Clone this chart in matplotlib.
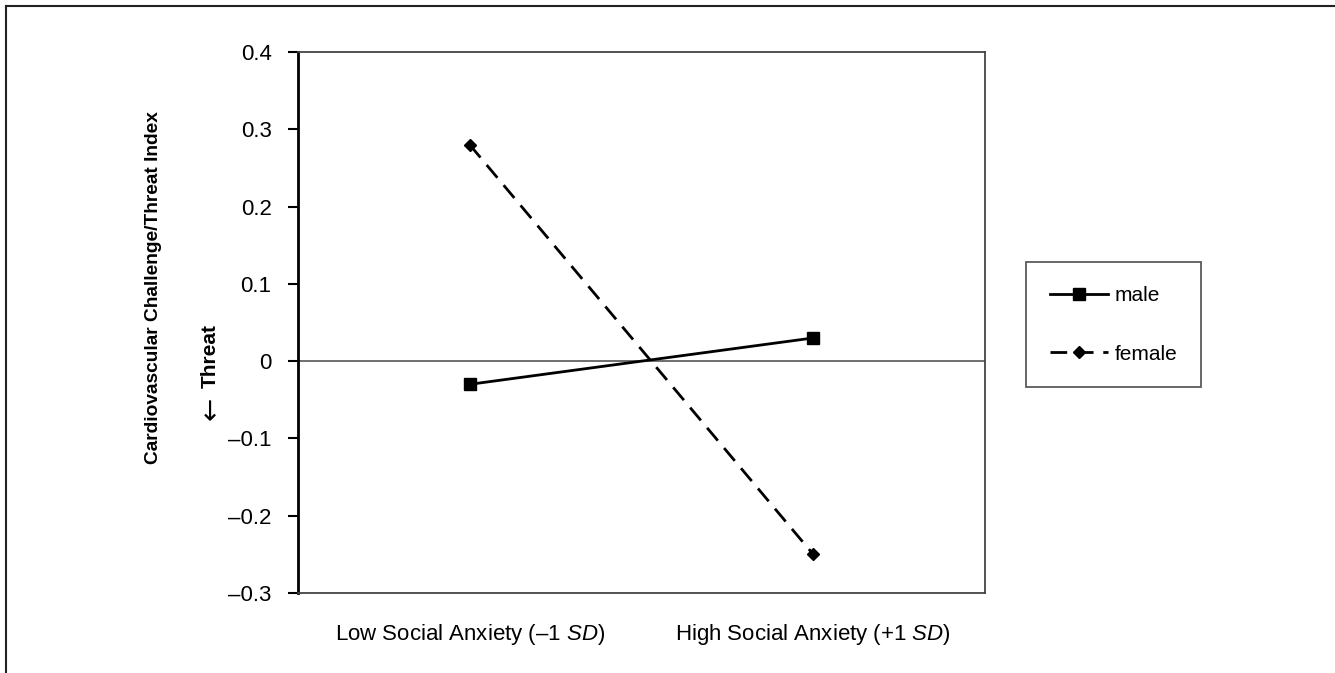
import matplotlib
matplotlib.use("Agg")
import matplotlib.pyplot as plt
from matplotlib.lines import Line2D

plt.rcParams['font.family'] = ['Liberation Sans', 'DejaVu Sans']
plt.rcParams['mathtext.fontset'] = 'custom'
plt.rcParams['mathtext.rm'] = 'Liberation Sans'
plt.rcParams['mathtext.it'] = 'Liberation Sans:italic'

# data
categories = ['Low Social Anxiety (\u20131 $\\mathit{SD}$)', 'High Social Anxiety (+1 $\\mathit{SD}$)']
cat_pos = [0.5, 1.5]
male = [-0.03, 0.03]
female = [0.28, -0.25]
yticks = [-0.3, -0.2, -0.1, 0.0, 0.1, 0.2, 0.3, 0.4]
ytick_labels = ['\u20130.3', '\u20130.2', '\u20130.1', '0', '0.1', '0.2', '0.3', '0.4']

fig = plt.figure(figsize=(13.35, 6.73), dpi=100)
ax = fig.add_axes([0.2232, 0.1189, 0.5146, 0.8038])

ax.plot(cat_pos, male, color='black', lw=2, ls='-', marker='s', ms=9, label='male')
ax.plot(cat_pos, female, color='black', lw=2, ls=(0, (6, 3.5)), marker='D', ms=6, label='female')
ax.axhline(0, color='#555555', lw=1.2, zorder=1)

ax.set_xlim(0, 2)
ax.set_ylim(-0.3, 0.4)
ax.set_yticks(yticks)
ax.set_yticklabels(ytick_labels, fontsize=16)
ax.set_xticks(cat_pos)
ax.set_xticklabels(categories, fontsize=16)
ax.tick_params(axis='x', length=0, pad=21)
ax.tick_params(axis='y', length=7, width=1.5, pad=12, direction='out')

ax.spines['left'].set_linewidth(2)
ax.spines['left'].set_color('black')
for s in ['top', 'right', 'bottom']:
    ax.spines[s].set_linewidth(1.3)
    ax.spines[s].set_color('#444444')

fig.text(154 / 1335, 1 - 288 / 673, 'Cardiovascular Challenge/Threat Index', rotation=90,
         fontsize=13.8, fontweight='bold', ha='center', va='center')
fig.text(210 / 1335, 1 - 356 / 673, 'Threat', rotation=90,
         fontsize=15, fontweight='bold', ha='center', va='center')
fig.text(211 / 1335, 1 - 408 / 673, '\u2190', rotation=90, family=['DejaVu Sans'],
         fontsize=20, ha='center', va='center')

leg = fig.legend(loc='upper left', bbox_to_anchor=(1026 / 1335, 1 - 262 / 673),
                 frameon=True, fancybox=False, fontsize=15, handlelength=2.8,
                 labelspacing=1.9, borderpad=1.15, handletextpad=0.3, borderaxespad=0)
leg.get_frame().set_edgecolor('#333333')
leg.get_frame().set_linewidth(1.3)

# outer frame (left and top edges)
fig.add_artist(Line2D([6 / 1335, 6 / 1335], [0, 1 - 6 / 673], color='#222222', lw=1.5))
fig.add_artist(Line2D([6 / 1335, 1], [1 - 6 / 673, 1 - 6 / 673], color='#222222', lw=1.5))

fig.savefig('out.png', dpi=100)
